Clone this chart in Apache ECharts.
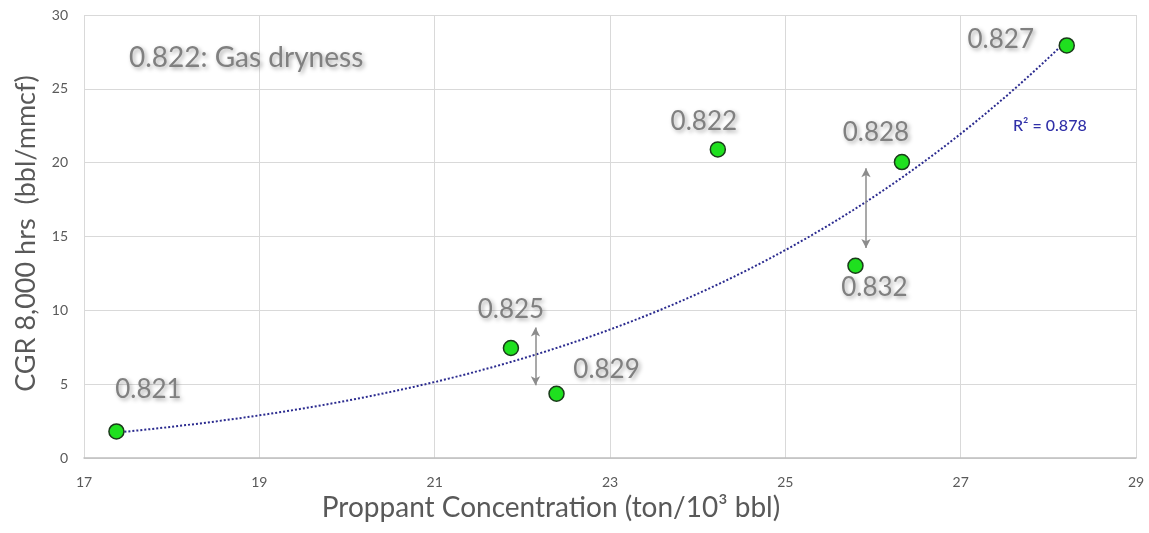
<!DOCTYPE html>
<html>
<head>
<meta charset="utf-8">
<script src="https://cdn.jsdelivr.net/npm/echarts@6/dist/echarts.min.js"></script>
<style>
  html, body { margin: 0; padding: 0; background: #ffffff; }
  #chart { width: 1149px; height: 533px; }
</style>
</head>
<body>
<div id="chart"></div>
<script>
// Proppant concentration (ton/10^3 bbl) and 8,000-hr CGR (bbl/mmcf) per well
const proppant = [17.37, 21.87, 22.39, 24.23, 25.80, 26.33, 28.21];
const cgr = [1.80, 7.45, 4.35, 20.90, 13.02, 20.04, 27.94];
// Gas dryness of each well, shown next to its point
const dryness = ['0.821', '0.825', '0.829', '0.822', '0.832', '0.828', '0.827'];

// Axis ranges
const xRange = [17, 29, 2];
const yRange = [0, 30, 5];

// Double-headed arrows: [x, yTop, yBottom]
const arrows = [
  [22.15, 8.84, 4.92],
  [25.92, 19.63, 14.22]
];

// Label placement relative to each point (px)
const labelOffsets = [[32, -42], [0, -38], [50, -24], [-14, -28], [19, 22], [-26, -29], [-66, -6]];

// Power-law trendline y = a * x^b fitted on ln(x), ln(y)
function powerFit(xs, ys) {
  const lx = xs.map(Math.log), ly = ys.map(Math.log);
  const n = xs.length;
  const mx = lx.reduce((s, v) => s + v, 0) / n;
  const my = ly.reduce((s, v) => s + v, 0) / n;
  let sxy = 0, sxx = 0;
  for (let i = 0; i < n; i++) {
    sxy += (lx[i] - mx) * (ly[i] - my);
    sxx += (lx[i] - mx) * (lx[i] - mx);
  }
  const b = sxy / sxx;
  const a = Math.exp(my - b * mx);
  return x => a * Math.pow(x, b);
}

const trend = powerFit(proppant, cgr);
const xMin = Math.min(...proppant), xMax = Math.max(...proppant);
const trendData = [];
for (let i = 0; i <= 80; i++) {
  const x = xMin + (xMax - xMin) * i / 80;
  trendData.push([x, trend(x)]);
}

const FONT = 'Lato, "Open Sans", sans-serif';
const labelStyle = {
  color: '#808080',
  fontSize: 26,
  fontFamily: FONT,
  textShadowColor: 'rgba(0,0,0,0.35)',
  textShadowBlur: 4,
  textShadowOffsetX: 2,
  textShadowOffsetY: 2
};

const pointData = proppant.map((x, i) => ({
  value: [x, cgr[i]],
  name: dryness[i],
  label: { offset: labelOffsets[i] }
}));

const chart = echarts.init(document.getElementById('chart'), null, { renderer: 'canvas' });
chart.setOption({
  animation: false,
  backgroundColor: '#ffffff',
  grid: { left: 84, right: 13, top: 15, bottom: 75 },
  title: {
    text: '0.822: Gas dryness',
    left: 124,
    top: 39,
    textStyle: Object.assign({}, labelStyle, { fontWeight: 'normal', fontSize: 28 })
  },
  graphic: [{
    type: 'text',
    left: 1013,
    top: 118,
    style: {
      text: 'R² = 0.878',
      fill: '#3030a8',
      font: '500 16px ' + FONT
    }
  }],
  xAxis: {
    type: 'value',
    min: xRange[0], max: xRange[1], interval: xRange[2],
    name: 'Proppant Concentration (ton/10³ bbl)',
    nameLocation: 'middle',
    nameGap: 36,
    nameTextStyle: { color: '#595959', fontSize: 28, fontFamily: FONT, padding: [0, 118, 0, 0] },
    axisLine: { show: true, lineStyle: { color: '#bfbfbf', width: 1.5 } },
    axisTick: { show: false },
    axisLabel: { color: '#595959', fontSize: 14, fontFamily: FONT, margin: 17 },
    splitLine: { show: true, lineStyle: { color: '#d9d9d9', width: 1 } }
  },
  yAxis: {
    type: 'value',
    min: yRange[0], max: yRange[1], interval: yRange[2],
    name: 'CGR 8,000 hrs  (bbl/mmcf)',
    nameLocation: 'middle',
    nameGap: 44,
    nameTextStyle: { color: '#595959', fontSize: 27, fontFamily: FONT, padding: [0, 0, 0, 6] },
    axisLine: { show: false },
    axisTick: { show: false },
    axisLabel: { color: '#595959', fontSize: 14, fontFamily: FONT, margin: 16 },
    splitLine: { show: true, lineStyle: { color: '#d9d9d9', width: 1 } }
  },
  series: [
    {
      type: 'line',
      data: trendData,
      showSymbol: false,
      silent: true,
      z: 2,
      lineStyle: { color: '#2b2b8f', width: 2, type: [2, 2] },
      markLine: {
        silent: true,
        symbol: ['arrow', 'arrow'],
        symbolSize: [7, 9],
        label: { show: false },
        lineStyle: { color: '#8c8c8c', width: 1.5, type: 'solid' },
        data: arrows.map(a => [{ coord: [a[0], a[1]] }, { coord: [a[0], a[2]] }])
      }
    },
    {
      type: 'scatter',
      data: pointData,
      symbol: 'circle',
      symbolSize: 15,
      z: 5,
      itemStyle: { color: '#1fe01f', borderColor: '#1a3a1a', borderWidth: 1.5, opacity: 1 },
      label: Object.assign({
        show: true,
        position: 'inside',
        formatter: p => p.name
      }, labelStyle)
    }
  ]
});
</script>
</body>
</html>
